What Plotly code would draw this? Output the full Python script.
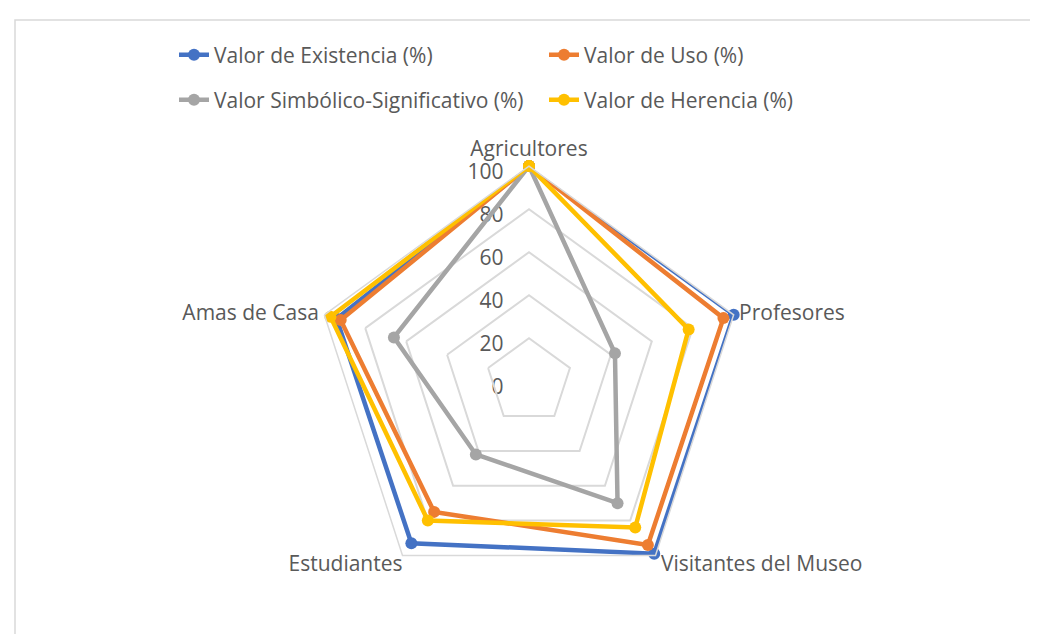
import plotly.graph_objects as go

# Datos del gráfico radial
categorias = ["Agricultores", "Profesores", "Visitantes del Museo", "Estudiantes", "Amas de Casa"]

existencia = [100, 100, 99, 93, 94]
uso = [100, 95, 94, 75, 92]
simbolico = [100, 42, 70, 42, 66]
herencia = [100, 78, 84, 80, 97]

radial_ticks = [0, 20, 40, 60, 80, 100]

series = [
    ("Valor de Existencia (%)", existencia, "#4472C4", "legend"),
    ("Valor de Uso (%)", uso, "#ED7D31", "legend"),
    ("Valor Simbólico-Significativo (%)", simbolico, "#A5A5A5", "legend2"),
    ("Valor de Herencia (%)", herencia, "#FFC000", "legend2"),
]

TEXT = "#595959"
FONT = "Open Sans"
FSIZE = 21
txtfont = dict(size=FSIZE, color=TEXT, family=FONT)
NB = "\u00a0"

# separa las etiquetas radiales del eje, como en Excel
radial_text = [f"{v}{NB * 4}" for v in radial_ticks]

fig = go.Figure()

# subplot auxiliar solo con las etiquetas del eje radial (un poco más abajo)
fig.add_trace(go.Scatterpolar(
    r=[], theta=[], mode="markers", showlegend=False, subplot="polar",
))

# etiqueta superior (subplot un poco más arriba)
fig.add_trace(go.Scatterpolar(
    r=[radial_ticks[-1]],
    theta=categorias[:1],
    mode="text",
    text=categorias[:1],
    textposition="top center",
    textfont=txtfont,
    cliponaxis=False,
    showlegend=False,
    hoverinfo="skip",
    subplot="polar3",
))

# resto de etiquetas de categorías
fig.add_trace(go.Scatterpolar(
    r=[radial_ticks[-1]] * 4,
    theta=categorias[1:],
    mode="text",
    text=[NB + categorias[1], NB + categorias[2], categorias[3], categorias[4] + NB],
    textposition=["middle right", "bottom right", "bottom left", "middle left"],
    textfont=txtfont,
    cliponaxis=False,
    showlegend=False,
    hoverinfo="skip",
    subplot="polar2",
))

for nombre, valores, color, leyenda in series:
    fig.add_trace(go.Scatterpolar(
        r=valores + valores[:1],
        theta=categorias + categorias[:1],
        name=nombre,
        mode="lines+markers",
        line=dict(color=color, width=4.5),
        marker=dict(color=color, size=12),
        legend=leyenda,
        subplot="polar2",
    ))

W, H = 1038, 634
# centro y radio ajustados a ojo
cx, cy, R = 521, 373.3, 215.2


def dominio(dy=0):
    return dict(
        x=[(cx - R) / W, (cx + R) / W],
        y=[(H - cy - dy - R) / H, (H - cy - dy + R) / H],
    )


_ang = dict(rotation=90, direction="clockwise", categoryorder="array",
            categoryarray=categorias, ticks="", showticklabels=False)

_hidden = dict(
    bgcolor="rgba(0,0,0,0)",
    gridshape="linear",
    angularaxis=dict(_ang, showgrid=False, showline=False),
    radialaxis=dict(range=[0, 100], showgrid=False, showline=False,
                    showticklabels=False, ticks=""),
)

_legend = dict(
    orientation="h",
    entrywidth=325,
    entrywidthmode="pixels",
    font=txtfont,
    bgcolor="rgba(0,0,0,0)",
    xanchor="left",
    yanchor="middle",
    x=166 / W,
)

fig.update_layout(
    width=W,
    height=H,
    paper_bgcolor="white",
    plot_bgcolor="white",
    margin=dict(l=0, r=0, t=0, b=0),
    font=dict(family=FONT, color=TEXT, size=FSIZE),
    legend=dict(_legend, y=1 - 47 / H),
    legend2=dict(_legend, y=1 - 92 / H),
    polar=dict(
        domain=dominio(6),
        bgcolor="rgba(0,0,0,0)",
        gridshape="linear",
        angularaxis=dict(_ang, showgrid=False, showline=False),
        radialaxis=dict(
            range=[0, 100],
            tickvals=radial_ticks,
            ticktext=radial_text,
            angle=90,
            tickangle=90,
            side="counterclockwise",
            showgrid=False,
            showline=False,
            ticks="",
            tickfont=txtfont,
        ),
    ),
    polar3=dict(_hidden, domain=dominio(-5)),
    polar2=dict(
        domain=dominio(0),
        bgcolor="rgba(0,0,0,0)",
        gridshape="linear",
        angularaxis=dict(_ang, showgrid=False, linecolor="#D9D9D9", linewidth=1.5),
        radialaxis=dict(
            range=[0, 100],
            dtick=20,
            angle=90,
            showline=False,
            showticklabels=False,
            ticks="",
            gridcolor="#D9D9D9",
            gridwidth=1.5,
        ),
    ),
    shapes=[dict(
        type="rect", xref="paper", yref="paper",
        x0=7 / W, x1=1.05, y0=-0.05, y1=1 - 12 / H,
        line=dict(color="#D9D9D9", width=1.5),
    )],
)

fig.write_html("out.html")
